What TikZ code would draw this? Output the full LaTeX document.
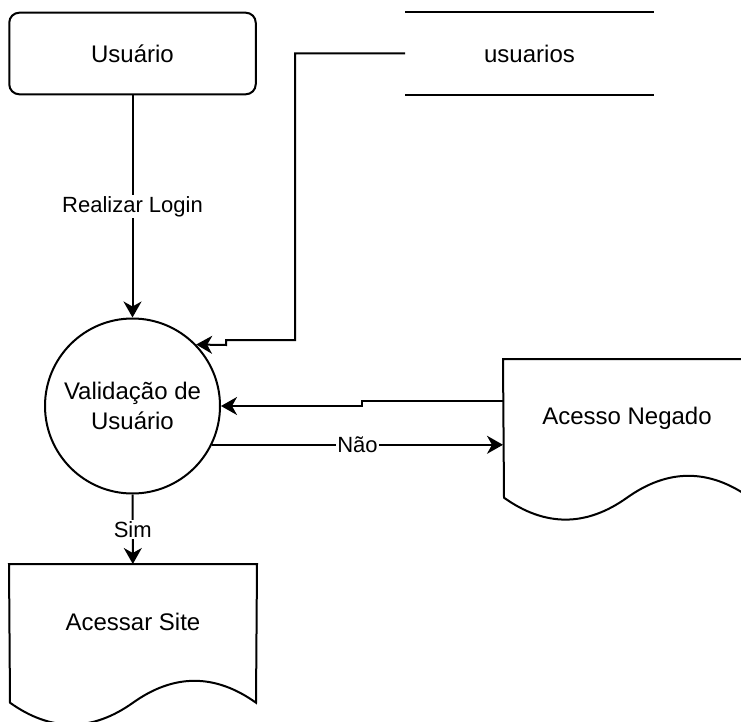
\documentclass[tikz,border=0pt]{standalone}
\usepackage{fontspec}
\setmainfont{Liberation Sans}
\usetikzlibrary{arrows.meta,calc}
\begin{document}
\begin{tikzpicture}[x=1pt,y=-1pt, line width=2pt,
  nodefont/.style={font=\fontsize{24}{30}\selectfont},
  procbox/.style={draw, rounded corners=10pt, minimum width=246.5pt, minimum height=81.6pt, inner sep=0pt, nodefont},
  store/.style={minimum width=247pt, minimum height=81.6pt, inner sep=0pt, nodefont},
  proc/.style={draw, circle, minimum size=175pt, inner sep=0pt, align=center, nodefont},
  docbox/.style={minimum width=246pt, minimum height=162pt, inner sep=0pt},
  flow/.style={-{Stealth[length=16pt,width=18pt,inset=5pt]}, line width=2pt},
  lbl/.style={fill=white, inner sep=1.5pt, font=\fontsize{22}{26}\selectfont}]
\useasboundingbox (0,0) rectangle (741,722);

\node[procbox] (usuario) at (132.5,53.5) {Usuário};
\node[store] (usuarios) at (529.5,53.5) {usuarios};
\draw (usuarios.north west) -- (usuarios.north east);
\draw (usuarios.south west) -- (usuarios.south east);

\node[proc] (valid) at (132.5,406) {Validação de\\Usuário};

\node[docbox, label={[nodefont, yshift=23pt]center:Acesso Negado}] (negado) at (627,441) {};
\draw (negado.north west) -- (negado.north east) -- (750,497.7)
  .. controls (709,468.5) and (668,468.5) .. (627,497.7)
  .. controls (586,526.9) and (545,526.9) .. (504,497.7) -- cycle;

\node[docbox, label={[nodefont, yshift=24pt]center:Acessar Site}] (site) at (133,646) {};
\draw (site.north west) -- (site.north east) -- (256,702.7)
  .. controls (215,673.5) and (174,673.5) .. (133,702.7)
  .. controls (92,731.9) and (51,731.9) .. (10,702.7) -- cycle;

\draw[flow] (usuario) -- node[lbl]{Realizar Login} (valid);
\draw[flow] (usuarios.west) -- (295,53.5) -- (295,340) -- (226,340) -- (226,345) -- (valid.44.2);
\draw[flow] ([yshift=40pt]negado.west) -- (362,401) -- (362,406) -- (valid.east);
\draw[flow] (valid.-26.5) -- node[lbl]{Não} (valid.-26.5 -| negado.west);
\draw[flow] (valid) -- node[lbl]{Sim} (site);
\end{tikzpicture}
\end{document}
